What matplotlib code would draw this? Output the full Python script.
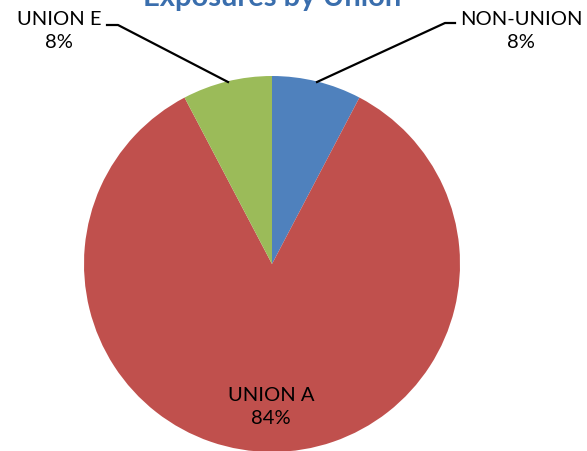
import matplotlib.pyplot as plt

labels = ['NON-UNION', 'UNION A', 'UNION E']
values = [7.7, 84.6, 7.7]
pct_text = ['8%', '84%', '8%']
colors = ['#4F81BD', '#C0504D', '#9BBB59']

plt.rcParams['font.family'] = ['Lato', 'DejaVu Sans']

fig = plt.figure(figsize=(5.87, 4.51), dpi=100)
ax = fig.add_axes([0, 0, 1, 1])

# pie in pixel-like coords (y up)
ax.pie(values, colors=colors, startangle=90, counterclock=False,
       center=(272, 187), radius=188, frame=True,
       wedgeprops=dict(linewidth=0))
ax.set_xlim(0, 587)
ax.set_ylim(0, 451)
ax.set_aspect('equal')
ax.axis('off')

# title, cut off at the top like the original
ax.text(272, 453, 'Exposures by Union', ha='center', va='center',
        fontsize=21, fontweight='bold', color='#3A6EAD')

# labels
ax.text(59, 420, labels[2] + '\n' + pct_text[2], ha='center', va='center',
        fontsize=14.5, linespacing=1.45)
ax.plot([107, 118, 228], [426, 426, 369], color='black', lw=1.6)

ax.text(521, 420, labels[0] + '\n' + pct_text[0], ha='center', va='center',
        fontsize=14.5, linespacing=1.45)
ax.plot([455, 445, 317], [428, 428, 369], color='black', lw=1.6)

ax.text(271, 44, labels[1] + '\n' + pct_text[1], ha='center', va='center',
        fontsize=14.5, linespacing=1.45)

fig.savefig('out.png', dpi=100)
